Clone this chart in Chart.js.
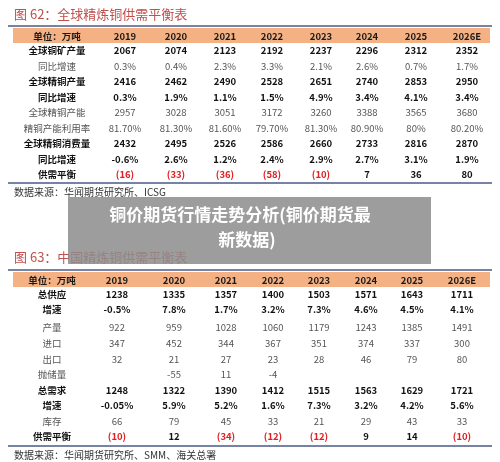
<!DOCTYPE html>
<html><head><meta charset="utf-8">
<script src="https://cdn.jsdelivr.net/npm/chart.js@4.4.0/dist/chart.umd.min.js"></script>
<style>html,body{margin:0;padding:0;background:#fff}canvas{display:block}</style>
</head><body>
<canvas id="c" width="500" height="462"></canvas>
<script>
const years = ["2019","2020","2021","2022","2023","2024","2025","2026E"];
const t1Labels = ["全球铜矿产量","同比增速","全球精铜产量","同比增速","全球精铜产能","精铜产能利用率","全球精铜消费量","同比增速","供需平衡"];
const t1Bold = [1,0,1,1,0,0,1,1,1];
const mineOutput = ["2067","2074","2123","2192","2237","2296","2312","2352"];
const mineYoY = ["0.3%","0.4%","2.3%","3.3%","2.1%","2.6%","0.7%","1.7%"];
const refinedOutput = ["2416","2462","2490","2528","2651","2740","2853","2950"];
const refinedYoY = ["0.3%","1.9%","1.1%","1.5%","4.9%","3.4%","4.1%","3.4%"];
const capacity = ["2957","3028","3051","3172","3260","3388","3565","3680"];
const utilization = ["81.70%","81.30%","81.60%","79.70%","81.30%","80.90%","80%","80.20%"];
const consumption = ["2432","2495","2526","2586","2660","2733","2816","2870"];
const consumptionYoY = ["-0.6%","2.6%","1.2%","2.4%","2.9%","2.7%","3.1%","1.9%"];
const balance1 = ["(16)","(33)","(36)","(58)","(10)","7","36","80"];
const t2Labels = ["总供应","增速","产量","进口","出口","抛储量","总需求","增速","库存","供需平衡"];
const t2Bold = [1,1,0,0,0,0,1,1,0,1];
const supply = ["1238","1335","1357","1400","1503","1571","1643","1711"];
const supplyYoY = ["-0.5%","7.8%","1.7%","3.2%","7.3%","4.6%","4.5%","4.1%"];
const production = ["922","959","1028","1060","1179","1243","1385","1491"];
const imports = ["347","452","344","367","351","374","337","300"];
const exports_ = ["32","21","27","23","28","46","79","80"];
const reserve = ["","-55","11","-4","","","",""];
const demand = ["1248","1322","1390","1412","1515","1563","1629","1721"];
const demandYoY = ["-0.05%","5.9%","5.2%","1.6%","7.3%","3.2%","4.2%","5.6%"];
const stock = ["66","79","45","33","21","29","43","33"];
const balance2 = ["(10)","12","(34)","(12)","(12)","9","14","(10)"];

const t1Rows=[mineOutput,mineYoY,refinedOutput,refinedYoY,capacity,utilization,consumption,consumptionYoY,balance1];
const t2Rows=[supply,supplyYoY,production,imports,exports_,reserve,demand,demandYoY,stock,balance2];
const F='"Noto Sans CJK SC","Noto Sans",sans-serif';
const SERIF='"Noto Sans CJK SC",serif';

function drawTable(ctx,o){
  ctx.textBaseline='middle';ctx.textAlign='left';
  ctx.fillStyle='#c0504d';ctx.font='13px '+SERIF;
  ctx.fillText(o.title,14,o.titleY);
  ctx.strokeStyle='#4a5a86';ctx.lineWidth=1.5;
  ctx.beginPath();ctx.moveTo(8,o.topY);ctx.lineTo(492,o.topY);ctx.stroke();
  ctx.fillStyle='#f4b183';ctx.fillRect(13,o.topY+2,477,15);
  ctx.textAlign='center';ctx.fillStyle='#1a1a1a';ctx.font='bold 9.5px '+F;
  ctx.fillText('单位：万吨',o.cols[0],o.topY+10);
  years.forEach((y,i)=>ctx.fillText(y,o.cols[i+1],o.topY+10));
  o.labels.forEach((lab,r)=>{
    const y=o.rowY[r];const b=o.bold[r];
    ctx.font=(b?'bold ':'')+'9.5px '+F;
    ctx.fillStyle=b?'#111':'#555';
    ctx.fillText(lab,o.cols[0],y);
    o.rows[r].forEach((v,i)=>{
      ctx.fillStyle=v.startsWith('(')?'#e02020':(b?'#111':'#555');
      ctx.fillText(v,o.cols[i+1],y);
    });
  });
  ctx.strokeStyle='#4a5a86';ctx.lineWidth=1.5;
  ctx.beginPath();ctx.moveTo(8,o.botY);ctx.lineTo(492,o.botY);ctx.stroke();
  ctx.textAlign='left';ctx.fillStyle='#333';ctx.font='10px '+SERIF;
  ctx.fillText(o.source,14,o.botY+9);
}

const tablePlugin={id:'tables',afterDraw(chart){
  const ctx=chart.ctx;ctx.save();
  ctx.fillStyle='#fff';ctx.fillRect(0,0,500,462);
  drawTable(ctx,{title:'图 62：全球精炼铜供需平衡表',titleY:14,topY:26,botY:183,
    cols:[57,125,176,225,272,321,367,416,467],labels:t1Labels,bold:t1Bold,rows:t1Rows,
    rowY:[50,66,81,97,112,128,143,159,174],source:'数据来源：华闻期货研究所、ICSG'});
  drawTable(ctx,{title:'图 63：中国精炼铜供需平衡表',titleY:257,topY:270,botY:446,
    cols:[52,117,174,226,273,319,366,412,462],labels:t2Labels,bold:t2Bold,rows:t2Rows,
    rowY:[294,309,327,343,359,374,390,405,421,436],source:'数据来源：华闻期货研究所、SMM、海关总署'});
  ctx.fillStyle='rgba(140,140,140,0.85)';ctx.fillRect(68,197,363,67);
  ctx.fillStyle='#fff';ctx.font='bold 17px '+F;ctx.textAlign='center';ctx.textBaseline='middle';
  ctx.fillText('铜价期货行情走势分析(铜价期货最',240,215);
  ctx.fillText('新数据)',247,240);
  ctx.restore();
}};

new Chart(document.getElementById('c'),{type:'bar',
  data:{labels:years,datasets:[]},
  options:{responsive:false,animation:false,plugins:{legend:{display:false},tooltip:{enabled:false}},
    scales:{x:{display:false},y:{display:false}}},
  plugins:[tablePlugin]});
</script>
</body></html>
